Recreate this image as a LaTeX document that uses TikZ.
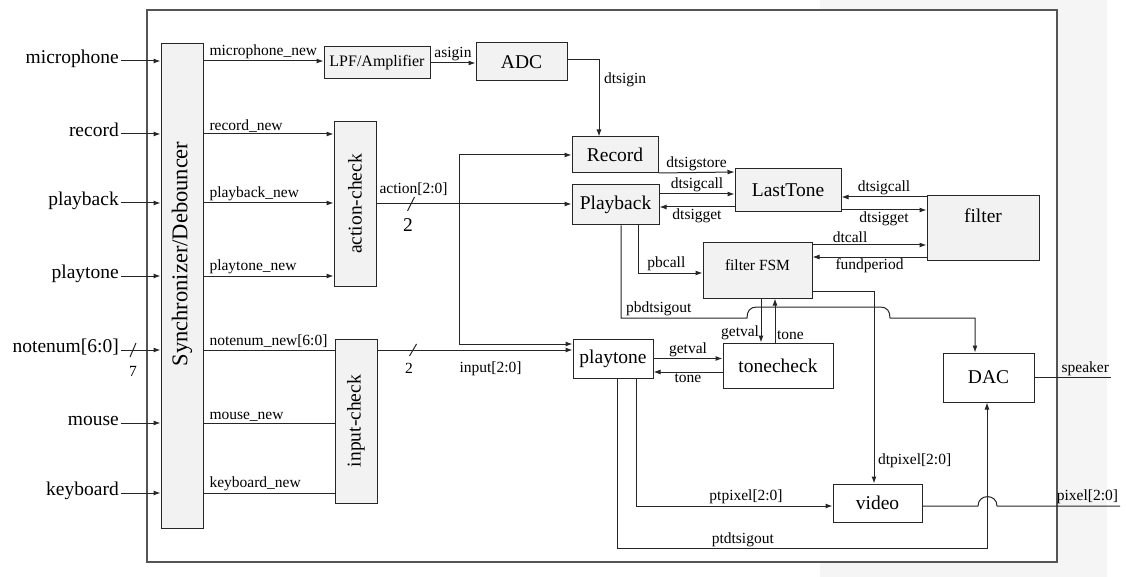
\documentclass[tikz,border=0pt]{standalone}
\usepackage{fontspec}
\setmainfont{Liberation Serif}
\usepackage{graphicx}
\usetikzlibrary{positioning, arrows.meta}
\definecolor{linec}{HTML}{262626}
\definecolor{boxfill}{HTML}{F2F2F2}
\definecolor{framec}{HTML}{555555}
\definecolor{bggray}{HTML}{F5F5F5}
\newcommand{\bigtxt}{\fontsize{19.5}{22}\selectfont}
\newcommand{\sigtxt}{\fontsize{15.5}{18}\selectfont}

\begin{document}
\begin{tikzpicture}[
    x=1pt, y=-1pt,
    >={Latex[length=7pt,width=5pt]},
    blk/.style={
        draw=linec, fill=boxfill, line width=1pt,
        font=\bigtxt, inner sep=0pt,
        text centered, align=center
    },
    wblk/.style={blk, fill=white},
    inname/.style={font=\bigtxt, anchor=east, inner sep=2pt, text height=0.7em, text depth=0.22em},
    arr/.style={->, draw=linec, line width=1pt},
    wire/.style={draw=linec, line width=1pt},
    lbl/.style={font=\sigtxt, inner sep=1.5pt},
    outlbl/.style={lbl, anchor=south west, pos=0, xshift=4pt},
    num/.style={font=\sigtxt, inner sep=0pt},
]
\useasboundingbox (0,0) rectangle (1126,577);

% Page background and outer frame
\fill[bggray] (820,0) rectangle (1107,577);
\draw[framec, fill=white, line width=1.3pt] (147,10) rectangle (1057,562);

% Left column: synchronizer (x = 182)
\node[blk, minimum width=42pt, minimum height=484pt] (sync) at (182,286) {};
\node[font=\fontsize{22.5}{24}\selectfont, rotate=90, inner sep=0pt] (synctxt) at ([yshift=32pt]sync.center) {Synchronizer/Debouncer};

% External inputs
\node[inname] (imic) at (121,61) {microphone};
\node[inname] (irec) at (121,134) {record};
\node[inname] (ipb) at (121,203) {playback};
\node[inname] (ipt) at (121,276) {playtone};
\node[inname] (inote) at (121,350) {notenum[6:0]};
\node[inname] (imouse) at (121,423) {mouse};
\node[inname] (ikb) at (121,493) {keyboard};

% Check blocks (x = 355)
\node[blk, minimum width=42pt, minimum height=164pt] (act) at (355,204) {\rotatebox{90}{action-check}};
\node[blk, minimum width=42pt, minimum height=164pt] (inp) at (356,421) {\rotatebox{90}{input-check}};

% Audio input path (top row)
\node[blk, font=\fontsize{16}{18}\selectfont, minimum width=106pt, minimum height=32pt] (lpf) at (377,63) {LPF/Amplifier};
\node[blk, minimum width=91pt, minimum height=38pt] (adc) at (521.5,62) {ADC};

% Record / playback blocks
\node[blk, minimum width=86pt, minimum height=36pt] (rec) at (615,155) {Record};
\node[blk, minimum width=87pt, minimum height=40pt] (pb) at (615.5,205) {Playback};
\node[blk, minimum width=106pt, minimum height=43pt] (last) at (788,190.5) {LastTone};
\node[blk, minimum width=112pt, minimum height=64pt,
      label={[font=\bigtxt, yshift=12pt]center:filter}] (filt) at (983,228) {};
\node[blk, minimum width=109pt, minimum height=55pt,
      label={[font=\sigtxt, yshift=5pt]center:filter FSM}] (fsm) at (757.5,270.5) {};

% Playtone path and outputs
\node[wblk, minimum width=80pt, minimum height=39pt] (ptone) at (613,358.5) {playtone};
\node[wblk, minimum width=110pt, minimum height=45pt] (tchk) at (778,365.5) {tonecheck};
\node[wblk, minimum width=89pt, minimum height=38pt] (vid) at (877.5,503) {video};
\node[wblk, minimum width=91pt, minimum height=49pt] (dac) at (988.5,377.5) {DAC};

\coordinate (br) at (459,204);
\coordinate (aslash) at (411,204);
\coordinate (islash) at (413,350);
\coordinate (spk) at (1111,377.5);
\coordinate (pixout) at (1120,506);

% Inputs into the synchronizer
\draw[arr] (imic.east) -- (imic -| sync.west);
\draw[arr] (irec.east) -- (irec -| sync.west);
\draw[arr] (ipb.east) -- (ipb -| sync.west);
\draw[arr] (ipt.east) -- (ipt -| sync.west);
\draw[arr] (inote.east) -- (inote -| sync.west);
\draw[arr] (imouse.east) -- (imouse -| sync.west);
\draw[arr] (ikb.east) -- (ikb -| sync.west);
\draw[wire] ([xshift=12pt]inote.east) ++(-3,7) -- ++(6,-14);
\node[num, below=16pt] (nnum) at ([xshift=12pt]inote.east) {7};

% Synchronizer outputs
\draw[arr] (imic -| sync.east) -- node[outlbl] {microphone\_new} (imic -| lpf.west);
\draw[arr] (irec -| sync.east) -- node[outlbl] {record\_new} (irec -| act.west);
\draw[arr] (ipb -| sync.east) -- node[outlbl] {playback\_new} (ipb -| act.west);
\draw[arr] (ipt -| sync.east) -- node[outlbl] {playtone\_new} (ipt -| act.west);
\draw[wire] (inote -| sync.east) -- node[outlbl] {notenum\_new[6:0]} (inote -| inp.west);
\draw[wire] (imouse -| sync.east) -- node[outlbl] {mouse\_new} (imouse -| inp.west);
\draw[wire] (ikb -| sync.east) -- node[outlbl] {keyboard\_new} (ikb -| inp.west);

% action and input buses
\draw[arr] (act.east) -- node[lbl, above=6pt, pos=0.19] {action[2:0]} (act.east -| pb.west);
\draw[wire] (aslash) ++(-3.5,7) -- ++(7,-14);
\node[num, font=\bigtxt, below=14pt, xshift=-3pt] (anum) at (aslash) {2};
\draw[arr] (br) |- (rec.west);
\draw[arr] (br) |- ([yshift=14.5pt]ptone.west);
\draw[arr] (inote -| inp.east) -- node[lbl, below=10pt, pos=0.58] {input[2:0]} (inote -| ptone.west);
\draw[wire] (islash) ++(-3.5,6) -- ++(7,-12);
\node[num, below=13pt, xshift=-4pt] (inum) at (islash) {2};

% Audio chain
\draw[arr] (lpf.east) -- node[lbl, above] {asigin} (lpf.east -| adc.west);
\draw[arr] ([yshift=2pt]adc.east) -| node[lbl, anchor=west, pos=0.63, xshift=3pt] {dtsigin} ([xshift=-16pt]rec.north);

% Record / Playback with LastTone
\draw[arr] ([yshift=0.5pt]rec.south east) -- node[lbl, above] {dtsigstore} ([yshift=-3.5pt]last.north west);
\draw[arr] ([yshift=11pt]pb.east) -- node[lbl, above] {dtsigcall} ([yshift=-3.5pt]last.west);
\draw[arr] ([yshift=-16.5pt]last.west) -- node[lbl, below] {dtsigget} ([yshift=-2pt]pb.east);

% LastTone and filter FSM with filter
\draw[arr] ([yshift=31pt]filt.west) -- node[lbl, above] {dtsigcall} ([yshift=-6.5pt]last.east);
\draw[arr] ([yshift=-19.5pt]last.east) -- node[lbl, below] {dtsigget} ([yshift=18pt]filt.west);
\draw[arr] ([yshift=25.5pt]fsm.east) -- node[lbl, above, pos=0.33] {dtcall} ([yshift=-17pt]filt.west);
\draw[arr] ([yshift=-29pt]filt.west) -- node[lbl, below] {fundperiod} ([yshift=13.5pt]fsm.east);

% Playback to filter FSM and DAC (long hop over the verticals)
\draw[arr] ([xshift=22.5pt]pb.south) |- node[lbl, above, pos=0.72] {pbcall} ([yshift=-2.5pt]fsm.west);
\draw[arr] ([xshift=5.5pt]pb.south) |- node[lbl, anchor=south west, pos=0.5, xshift=3pt] {pbdtsigout} (747,318)
    .. controls (747,311) and (750,307) .. (757,307) -- (880,307)
    .. controls (887,307) and (890,311) .. (890,318) -| ([xshift=-13.5pt]dac.north);

% filter FSM with tonecheck
\draw[arr] ([xshift=3.5pt]fsm.south) -- node[lbl, left, pos=0.77] {getval} ([xshift=-17pt]tchk.north);
\draw[arr] ([xshift=-3pt]tchk.north) -- node[lbl, right, pos=0.16] {tone} ([xshift=17.5pt]fsm.south);

% playtone with tonecheck
\draw[arr] (ptone.east) -- node[lbl, above] {getval} (ptone.east -| tchk.west);
\draw[arr] ([yshift=-6.5pt]tchk.west) -- node[lbl, below] {tone} ([yshift=-13.5pt]ptone.east);

% Pixel paths
\draw[arr] ([yshift=-20.5pt]fsm.east) -| node[lbl, anchor=west, pos=0.94, xshift=2pt] {dtpixel[2:0]} ([xshift=-3.5pt]vid.north);
\draw[arr] ([xshift=23pt]ptone.south) |- node[lbl, above, pos=0.78] {ptpixel[2:0]} ([yshift=-3pt]vid.west);
\draw[arr] ([xshift=4pt]ptone.south) -- ++(0,170) -| node[lbl, above, pos=0.17] {ptdtsigout} ([xshift=-1.5pt]dac.south);

% Outputs
\draw[wire] ([yshift=-3pt]vid.east) -- (978,506) .. controls (978,493.5) and (997,493.5) .. (997,506)
    -- node[lbl, anchor=south east, pos=1] {pixel[2:0]} (pixout);
\draw[wire] (dac.east) -- node[lbl, anchor=south east, pos=1] {speaker} (spk);

\end{tikzpicture}
\end{document}
